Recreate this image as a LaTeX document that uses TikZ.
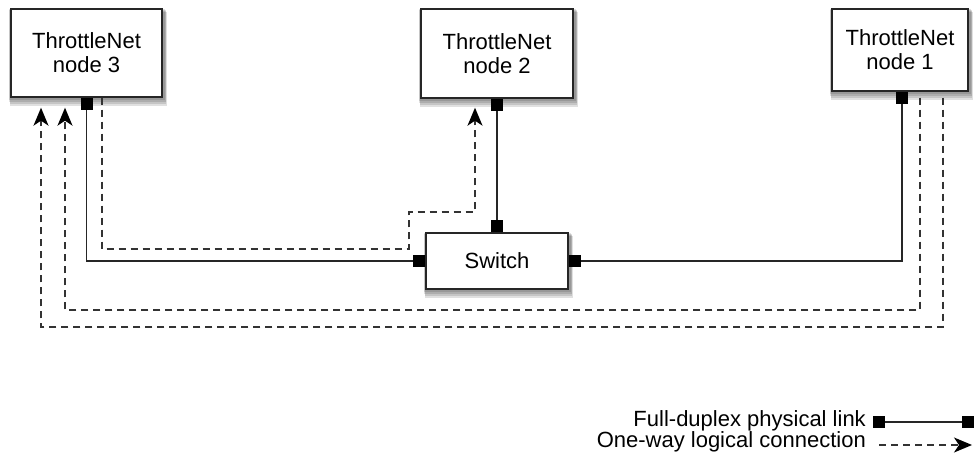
\documentclass[tikz,border=0pt]{standalone}
\usepackage{fontspec}
\setmainfont{Liberation Sans}
\usetikzlibrary{arrows.meta,backgrounds,calc}
\tikzset{tnhead/.tip={Stealth[length=18pt,width=15pt,inset=5pt,line width=1.5pt,color=black]}}
\begin{document}
\begin{tikzpicture}[x=1pt,y=1pt,
  box/.style={draw=black!85,line width=1.4pt,fill=white,inner sep=0pt,align=center,
    font=\fontsize{22}{24}\selectfont},
  shade1/.style={fill=black,opacity=0.12},
  port/.style={fill=black,inner sep=0pt,minimum size=12pt},
  phys/.style={line width=1.2pt,black!85},
  logi/.style={line width=1.3pt,black!80,dash pattern=on 7pt off 5pt,-tnhead},
  lbl/.style={font=\fontsize{22}{24}\selectfont,anchor=base east,inner sep=0pt}]
\useasboundingbox (0,0) rectangle (977,-460);

\node[box,minimum width=151pt,minimum height=88pt] (n3) at (86.5,-53) {ThrottleNet\\node 3};
\node[box,minimum width=152pt,minimum height=89pt] (n2) at (497,-53.5) {ThrottleNet\\node 2};
\node[box,minimum width=136pt,minimum height=82pt] (n1) at (900,-50) {ThrottleNet\\node 1};
\node[box,minimum width=142pt,minimum height=56pt] (sw) at (497,-261) {Switch};

\begin{scope}[on background layer]
\foreach \n in {n3,n2,n1,sw}{
  \foreach \d in {2,4,6,8}{
    \fill[shade1] ([shift={(-2pt+0.25*\d pt,-\d pt)}]\n.south west) rectangle ([shift={(2pt+0.25*\d pt,-0.5*\d pt)}]\n.north east);
  }
}
\end{scope}

\node[port,anchor=north] (p3) at (n3.south) {};
\node[port,anchor=north] (p2) at (n2.south) {};
\node[port,anchor=north] (p1) at ([xshift=2pt]n1.south) {};
\node[port,anchor=south] (pst) at (sw.north) {};
\node[port,anchor=east] (psl) at (sw.west) {};
\node[port,anchor=west] (psr) at (sw.east) {};

\draw[phys] (p3.south) |- (psl.west);
\draw[phys] (p2.south) -- (pst.north);
\draw[phys] (psr.east) -| (p1.south);

\draw[logi] ([xshift=15.5pt]n3.south) |- (409,-249) |- (475,-212) -- ([xshift=-22pt,yshift=-9pt]n2.south);
\draw[logi] ([xshift=20pt,yshift=-6pt]n1.south) |- (65,-310) -- ([xshift=-21.5pt,yshift=-10pt]n3.south);
\draw[logi] ([xshift=43pt,yshift=-6pt]n1.south) |- (41,-327) -- ([xshift=-45.5pt,yshift=-10pt]n3.south);

\node[lbl] (l1) at (866,-426) {Full-duplex physical link};
\node[lbl] (l2) at (866,-447) {One-way logical connection};
\node[port] (la) at (879,-422) {};
\node[port] (lb) at (968,-422) {};
\draw[phys] (la.east) -- (lb.west);
\coordinate (lc) at (879,-445);
\coordinate (ld) at (972,-445);
\draw[logi] (lc) -- (ld);
\end{tikzpicture}
\end{document}
